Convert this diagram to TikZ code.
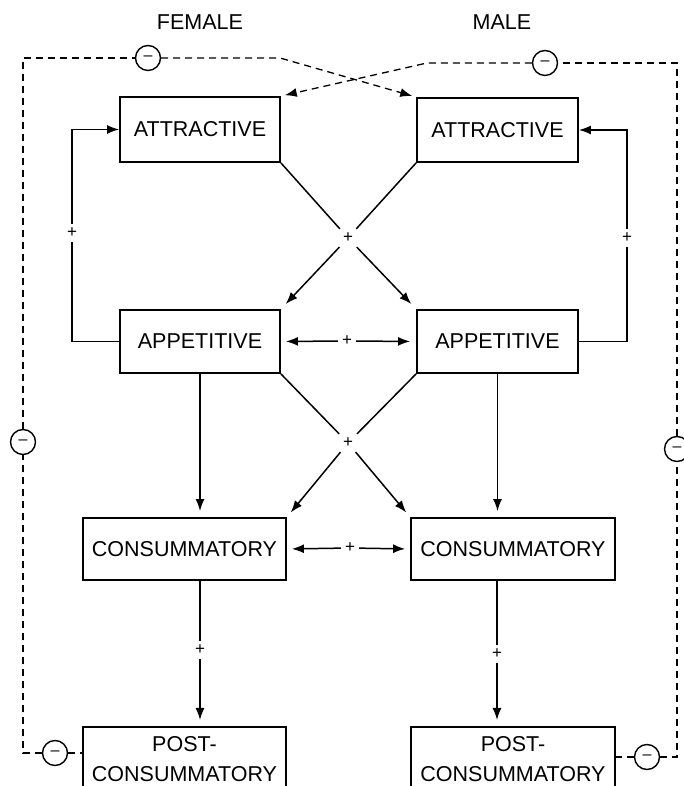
\documentclass[tikz,border=0pt]{standalone}
\usepackage{fontspec}
\setmainfont{Liberation Sans}
\usetikzlibrary{arrows.meta}

\begin{document}
\begin{tikzpicture}[
    x=1pt, y=1pt,
    every node/.style={font=\fontsize{21.5}{30}\selectfont},
    box/.style={draw, line width=1.8pt, inner sep=0pt},
    sign/.style={font=\fontsize{17}{17}\selectfont, inner sep=4pt},
    minus/.style={circle, draw, line width=1.4pt, minimum size=25pt, inner sep=0pt, font=\fontsize{16}{16}\selectfont},
    link/.style={line width=1.5pt},
    neg/.style={line width=1.3pt, dash pattern=on 7pt off 5pt},
    >={Latex[length=12pt,width=9pt]}
]
\useasboundingbox (0,0) rectangle (683,786);

% Titles
\node (ftitle) at (200,764) {FEMALE};
\node (mtitle) at (502,764) {MALE};

% Female
\node[box, minimum width=160pt, minimum height=65pt] (fatt) at (200,656.5) {ATTRACTIVE};
\node[box, minimum width=160pt, minimum height=63pt] (fapp) at (200,444.5) {APPETITIVE};
\node[box, minimum width=203pt, minimum height=62pt] (fcon) at (184.5,237) {CONSUMMATORY};
\node[box, minimum width=203pt, minimum height=64pt, anchor=north, align=center] (fpost) at (184.5,60) {POST-\\CONSUMMATORY};

% Male
\node[box, minimum width=161pt, minimum height=64pt] (matt) at (497.5,656) {ATTRACTIVE};
\node[box, minimum width=161pt, minimum height=63pt] (mapp) at (497.5,444.5) {APPETITIVE};
\node[box, minimum width=204pt, minimum height=62pt] (mcon) at (513,237) {CONSUMMATORY};
\node[box, minimum width=204pt, minimum height=64pt, anchor=north, align=center] (mpost) at (513,60) {POST-\\CONSUMMATORY};

% Signs
\node[sign] (fl) at (72,553) {+};
\node[sign] (ml) at (627,548) {+};
\node[sign] (c1) at (348,548) {+};
\node[sign] (a1) at (347,445) {+};
\node[sign] (c2) at (348,343) {+};
\node[sign] (b1) at (350,238) {+};
\node[sign] (fd) at (200,136) {+};
\node[sign] (md) at (497,132) {+};

\node[minus] (fm1) at (148,728) {--};
\node[minus] (fm3) at (23,344) {--};
\node[minus] (fm4) at (55,33) {--};
\node[minus] (mm1) at (545,723) {--};
\node[minus] (mm3) at (677,337) {--};
\node[minus] (mm4) at (647,29) {--};
\coordinate (fbend) at (280,728);
\coordinate (mbend) at (427,723);

% Loops
\draw[link] (fapp.west) -| (fl);
\draw[link,->] (fl) |- (fatt.west);
\draw[link] (mapp.east) -| (ml);
\draw[link,->] (ml) |- (matt.east);

% Upper cross
\draw[link] (fatt.south east) -- (c1);
\draw[link] (matt.south west) -- (c1);
\draw[link,->,shorten >=7pt] (c1) -- (fapp.north east);
\draw[link,->,shorten >=7pt] (c1) -- (mapp.north west);

\draw[link,->,shorten >=5pt] (a1) -- (fapp.east);
\draw[link,->,shorten >=6pt] (a1) -- (mapp.west);

% Lower cross
\draw[link] (fapp.south east) -- (c2);
\draw[link] (mapp.south west) -- (c2);
\draw[link,->,shorten >=6pt] (c2) -- (fcon.north east);
\draw[link,->,shorten >=6pt] (c2) -- (mcon.north west);

\draw[link,->,shorten >=6pt] (fapp.south) -- (fapp.south |- fcon.north);
\draw[link,->,shorten >=6pt] (mapp.south) -- (mapp.south |- mcon.north);

\draw[link,->,shorten >=5pt] (b1) -- (fcon.east);
\draw[link,->,shorten >=5pt] (b1) -- (mcon.west);

\draw[link] (fd |- fcon.south) -- (fd);
\draw[link,->,shorten >=6pt] (fd) -- (fd |- fpost.north);
\draw[link] (md |- mcon.south) -- (md);
\draw[link,->,shorten >=6pt] (md) -- (md |- mpost.north);

% Feedback
\draw[neg] (fm4) -- (fm4 -| fpost.west);
\draw[neg] (fm4) -| (fm3);
\draw[neg] (fm3) |- (fm1);
\draw[neg,->,shorten >=4pt] (fm1) -- (fbend) -- (matt.north west);

\draw[neg] (mm4) -- (mm4 -| mpost.east);
\draw[neg] (mm4) -| (mm3);
\draw[neg] (mm3) |- (mm1);
\draw[neg,->,shorten >=4pt] (mm1) -- (mbend) -- (fatt.north east);
\end{tikzpicture}
\end{document}
